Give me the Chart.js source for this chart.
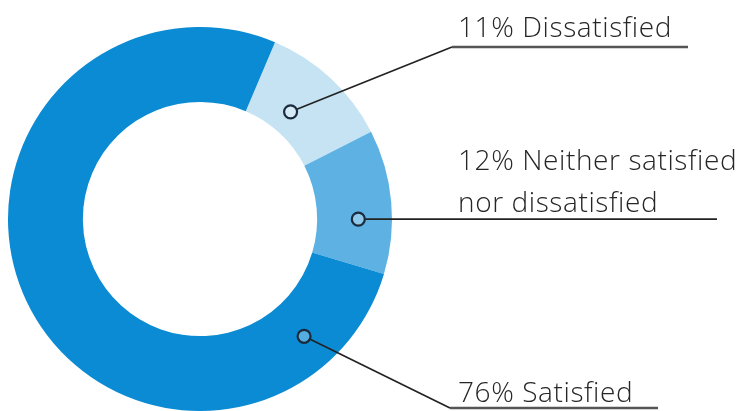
<!DOCTYPE html>
<html lang="en">
<head>
    <meta charset="UTF-8">
    <title>Satisfaction</title>
    <script src="https://cdn.jsdelivr.net/npm/chart.js"></script>
    <style>
        body { margin: 0; background: #fff; }
        #wrap { width: 744px; height: 411px; }
    </style>
</head>
<body>
<div id="wrap"><canvas id="donut" width="744" height="411"></canvas></div>

<script>
    // data
    const labels = [['Dissatisfied'], ['Neither satisfied', 'nor dissatisfied'], ['Satisfied']];
    const percents = [11, 12, 76];
    const colors = ['#c6e3f4', '#5db2e3', '#0b8bd3'];

    // callout layout: where the dot sits inside each slice, and where the leader goes
    const callouts = [
        { along: 0.43, depth: 0.31, kink: [452, 47], end: 688, textY: [37] },
        { along: 0.62, depth: 0.55, kink: null, end: 717, textY: [170, 212] },
        { along: 0.115, depth: 0.53, kink: [450, 408], end: 658, textY: [402] }
    ];
    const textX = 458;

    const calloutPlugin = {
        id: 'callouts',
        afterDraw(chart) {
            const ctx = chart.ctx;
            const arcs = chart.getDatasetMeta(0).data;
            ctx.save();
            arcs.forEach((arc, i) => {
                const c = callouts[i];
                const p = arc.getProps(['x', 'y', 'startAngle', 'endAngle', 'innerRadius', 'outerRadius'], true);
                const a = p.startAngle + (p.endAngle - p.startAngle) * c.along;
                const r = p.innerRadius + (p.outerRadius - p.innerRadius) * c.depth;
                const dx = p.x + Math.cos(a) * r;
                const dy = p.y + Math.sin(a) * r;

                // leader line
                ctx.strokeStyle = '#222';
                ctx.lineWidth = 1.7;
                ctx.beginPath();
                ctx.moveTo(dx, dy);
                if (c.kink) {
                    ctx.lineTo(c.kink[0], c.kink[1]);
                    ctx.stroke();
                    ctx.strokeStyle = '#555';
                    ctx.lineWidth = 2.6;
                    ctx.beginPath();
                    ctx.moveTo(c.kink[0], c.kink[1]);
                    ctx.lineTo(c.end, c.kink[1]);
                } else {
                    ctx.lineTo(c.end, dy);
                }
                ctx.stroke();

                // dot
                ctx.beginPath();
                ctx.arc(dx, dy, 6.5, 0, Math.PI * 2);
                ctx.fillStyle = colors[i];
                ctx.fill();
                ctx.fillStyle = 'rgba(255,255,255,0.3)';
                ctx.fill();
                ctx.lineWidth = 2.2;
                ctx.strokeStyle = '#1b2a3c';
                ctx.stroke();

                // text
                ctx.fillStyle = '#262626';
                ctx.font = '300 28px "Open Sans", sans-serif';
                ctx.letterSpacing = '0.6px';
                ctx.textAlign = 'left';
                ctx.textBaseline = 'alphabetic';
                labels[i].forEach((line, j) => {
                    const txt = j === 0 ? percents[i] + '% ' + line : line;
                    ctx.fillText(txt, textX, c.textY[j]);
                });
                ctx.letterSpacing = '0px';
            });
            ctx.restore();
        }
    };

    new Chart(document.getElementById('donut'), {
        type: 'doughnut',
        data: {
            labels: labels.map(l => l.join(' ')),
            datasets: [{
                data: percents,
                backgroundColor: colors,
                borderWidth: 0
            }]
        },
        options: {
            responsive: false,
            animation: false,
            cutout: '61%',
            rotation: 23,
            layout: { padding: { top: 27, bottom: 0, left: 8, right: 352 } },
            plugins: {
                legend: { display: false },
                tooltip: { enabled: false }
            }
        },
        plugins: [calloutPlugin]
    });
</script>
</body>
</html>
